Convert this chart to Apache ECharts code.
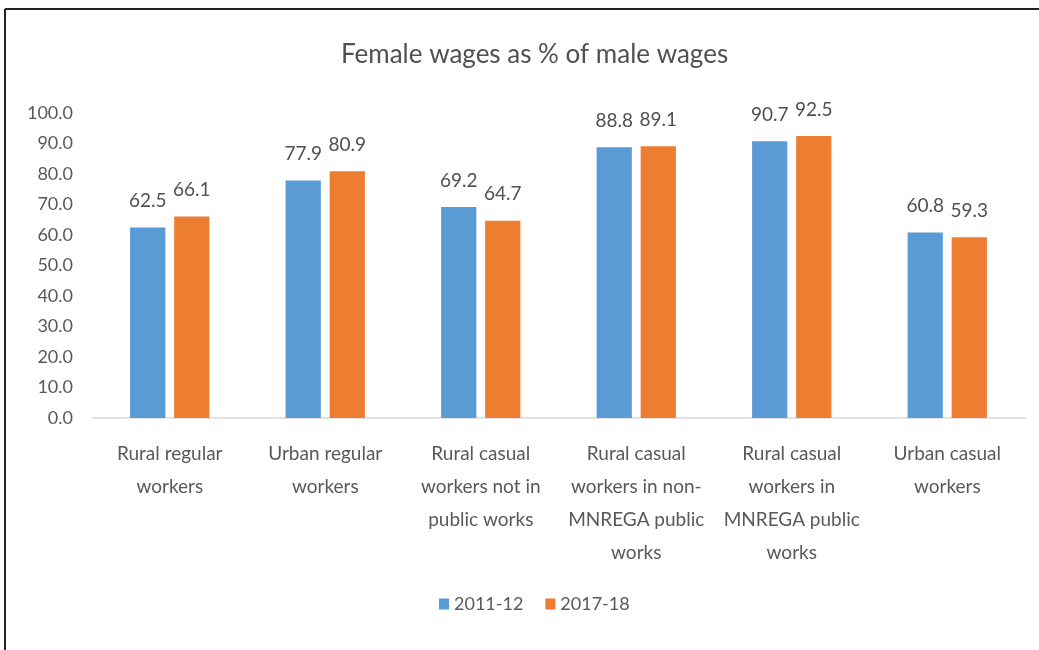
<!DOCTYPE html>
<html><head><meta charset="utf-8">
<script src="https://cdn.jsdelivr.net/npm/echarts@6/dist/echarts.min.js"></script>
<style>html,body{margin:0;padding:0;background:#fff}#c{width:1039px;height:650px}</style>
</head><body><div id="c"></div>
<script>
const title = 'Female wages as % of male wages';
const categories = [
  'Rural regular\nworkers',
  'Urban regular\nworkers',
  'Rural casual\nworkers not in\npublic works',
  'Rural casual\nworkers in non-\nMNREGA public\nworks',
  'Rural casual\nworkers in\nMNREGA public\nworks',
  'Urban casual\nworkers'
];
const seriesNames = ['2011-12', '2017-18'];
const values2011 = [62.5, 77.9, 69.2, 88.8, 90.7, 60.8];
const values2017 = [66.1, 80.9, 64.7, 89.1, 92.5, 59.3];
const colors = ['#5B9BD5', '#ED7D31'];

const FONT = 'Lato, "Open Sans", sans-serif';
const chart = echarts.init(document.getElementById('c'), null, {renderer: 'canvas'});
const mkSeries = (name, data, color) => ({
  name, type: 'bar', data, barGap: '25%', barCategoryGap: '49%',
  itemStyle: {color},
  label: {show: true, position: 'top', distance: 17, color: '#505050', fontSize: 19, fontFamily: FONT,
    formatter: p => p.value.toFixed(1)}
});
chart.setOption({
  animation: false,
  textStyle: {fontFamily: FONT},
  title: {text: title, left: 336, top: 37,
    textStyle: {fontSize: 26, fontWeight: 'normal', color: '#505050', fontFamily: FONT}},
  legend: {bottom: 32, left: 434, itemWidth: 10, itemHeight: 11, itemGap: 22, icon: 'rect',
    textStyle: {fontSize: 18, color: '#595959', fontFamily: FONT}, data: seriesNames},
  grid: {left: 92, right: 14, top: 113, bottom: 232, containLabel: false},
  xAxis: {type: 'category', data: categories,
    axisLine: {lineStyle: {color: '#D9D9D9', width: 1.5}},
    axisTick: {show: false},
    axisLabel: {interval: 0, margin: 19, fontSize: 19, lineHeight: 33, color: '#595959', fontFamily: FONT, align: 'center'}},
  yAxis: {type: 'value', min: 0, max: 100, interval: 10,
    axisLine: {show: false}, axisTick: {show: false}, splitLine: {show: false},
    axisLabel: {fontSize: 18, color: '#595959', margin: 19, fontFamily: FONT, formatter: v => v.toFixed(1)}},
  series: [mkSeries(seriesNames[0], values2011, colors[0]), mkSeries(seriesNames[1], values2017, colors[1])],
  graphic: [
    {type: 'line', shape: {x1: 5, y1: 9, x2: 1039, y2: 9}, style: {stroke: '#222', lineWidth: 2}},
    {type: 'line', shape: {x1: 5, y1: 9, x2: 5, y2: 650}, style: {stroke: '#222', lineWidth: 2}}
  ]
});
</script></body></html>
